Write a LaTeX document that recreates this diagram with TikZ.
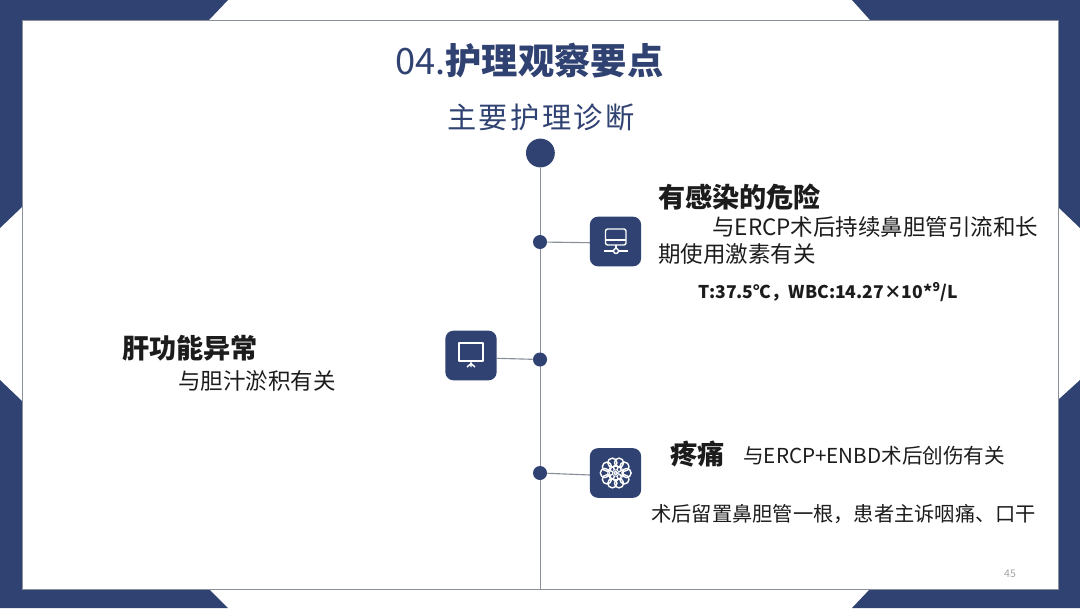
\documentclass[tikz,border=0pt]{standalone}
\usepackage{fontspec}
\usetikzlibrary{calc,backgrounds}
\setmainfont{Noto Sans CJK SC}
\definecolor{navy}{HTML}{2F4272}
\definecolor{spine}{HTML}{8A8F9C}
\definecolor{ink}{HTML}{1C1C1C}
\tikzset{
	dotnode/.style={circle, fill=navy, inner sep=0pt, minimum size=0.35cm},
	iconbox/.style={rounded corners=0.2cm, fill=navy, inner sep=0pt, minimum width=1.28cm, minimum height=1.24cm},
	iconline/.style={draw=white, line width=1pt, line join=round},
	headtext/.style={anchor=west, inner sep=0pt, text=ink, font=\fontsize{19.3}{23}\bfseries\selectfont},
	bodytext/.style={anchor=west, inner sep=0pt, text=ink, align=left, font=\fontsize{16}{19.2}\selectfont},
	smalltext/.style={anchor=west, inner sep=0pt, text=ink, font=\fontsize{14.4}{17}\selectfont}
}

\begin{document}
\begin{tikzpicture}[x=0.025cm, y=-0.025cm]
	\useasboundingbox (0,0) rectangle (1080,608);

	% titles
	\node[anchor=west, inner sep=0pt, text=navy, font=\fontsize{25.8}{30}\selectfont] (title) at (395,61) {04.{\bfseries 护理观察要点}};
	\node[anchor=west, inner sep=0pt, text=navy, font=\fontsize{20.8}{25}\selectfont] (subtitle) at (447,117) {主\hspace{1.7pt}要\hspace{1.7pt}护\hspace{1.7pt}理\hspace{1.7pt}诊\hspace{1.7pt}断};

	% spine
	\node[circle, fill=navy, inner sep=0pt, minimum size=0.72cm] (topdot) at (540.4,153) {};
	\coordinate (spineend) at (540.4,589);
	\node[dotnode] (dotinfect) at (540,242) {};
	\node[dotnode] (dotliver) at (540,359.5) {};
	\node[dotnode] (dotpain) at (540,473) {};
	\node[iconbox] (iconinfect) at (615.5,241.5) {};
	\node[iconbox] (iconliver) at (471,355.5) {};
	\node[iconbox] (iconpain) at (615.5,473) {};
	\coordinate (tabinfect) at (590,242.7);
	\coordinate (tabliver) at (497,358.3);
	\coordinate (tabpain) at (590,475);

	\begin{pgfonlayer}{background}
		% corner bands
		\fill[white] (0,0) rectangle (1080,608);
		\fill[navy] (0,0) -- (228,0) -- (209,20) -- (22,20) -- (22,207) -- (0,228) -- cycle;
		\fill[navy] (1080,0) -- (852,0) -- (870,20) -- (1058,20) -- (1058,207) -- (1080,228) -- cycle;
		\fill[navy] (0,608) -- (228,608) -- (209,589) -- (22,589) -- (22,401) -- (0,380) -- cycle;
		\fill[navy] (1080,608) -- (852,608) -- (870,589) -- (1058,589) -- (1058,400) -- (1080,380) -- cycle;
		\draw[fill=white, draw=spine, line width=0.5pt] (22,20) rectangle (1058,589);
		\draw[spine, line width=0.8pt] (topdot) -- (spineend);
		\draw[spine, line width=0.8pt] (dotinfect) -- (tabinfect);
		\draw[spine, line width=0.8pt] (dotliver) -- (tabliver);
		\draw[spine, line width=0.8pt] (dotpain) -- (tabpain);
	\end{pgfonlayer}

	% monitor icon
	\draw[iconline, rounded corners=1.5pt] (605.5,229) rectangle (626,245);
	\draw[iconline] (605.5,240) -- (626,240);
	\draw[iconline] (616,245) -- (616,248.5);
	\draw[iconline] (604,251) -- (613.5,251) (618.5,251) -- (628,251);
	\draw[iconline] (616,251) circle (2.5);
	% screen icon
	\draw[iconline, line width=1.3pt] (459,343) rectangle (483,361);
	\draw[iconline] (471,361) -- (471,367) (471,363.5) -- (467,367) (471,363.5) -- (475,367);
	% flower icon
	\foreach \a in {0,36,...,324} {
		\draw[iconline] ($(615.7,473)+(\a:10.8)$) circle (4.6);
	}
	\foreach \a in {0,45,...,315} {
		\draw[iconline, line width=0.6pt] ($(615.7,473)+(\a:5.5)$) circle (2.6);
	}
	\draw[iconline] (615.7,473) circle (1.8);

	% right upper text
	\node[headtext] (infecthead) at (658,197) {有感染的危险};
	\node[bodytext] (infectbody) at (658,240) {\hspace*{1.35cm}与ERCP术后持续鼻胆管引流和长\\期使用激素有关};
	\node[anchor=west, inner sep=0pt, text=ink, font=\fontsize{12.5}{15}\bfseries\selectfont] (infectlab) at (698,292) {T:37.5℃，WBC:14.27×10*\textsuperscript{9}/L};
	% left text
	\node[headtext] (liverhead) at (122,348) {肝功能异常};
	\node[bodytext] (liverbody) at (178,381) {与胆汁淤积有关};
	% right lower text
	\node[headtext] (painhead) at (670,454) {疼痛};
	\node[smalltext, font=\fontsize{14.65}{17}\selectfont] (painbody) at (743,456) {与ERCP+ENBD术后创伤有关};
	\node[smalltext] (paindetail) at (651,514) {术后留置鼻胆管一根，患者主诉咽痛、口干};
	\node[anchor=center, inner sep=0pt, text=gray!70, font=\fontsize{7.5}{9}\selectfont] (pagenum) at (1010,574) {45};
\end{tikzpicture}
\end{document}
